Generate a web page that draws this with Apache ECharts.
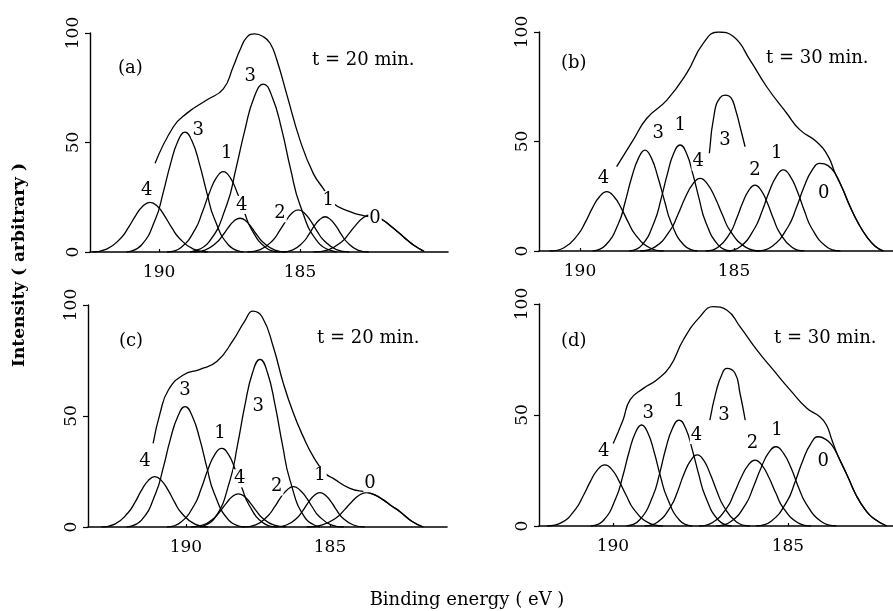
<!DOCTYPE html>
<html><head><meta charset="utf-8">
<script src="https://cdn.jsdelivr.net/npm/echarts@6/dist/echarts.min.js"></script>
<style>html,body{margin:0;padding:0;background:#fff}#c{width:893px;height:611px}</style>
</head><body><div id="c"></div>
<script>
// ---------------- DATA ----------------
const xTickValues = [190, 185];
const yTickValues = [0, 50, 100];
const panelTags = ['(a)', '(b)', '(c)', '(d)'];
const panelTimes = ['t = 20 min.', 't = 30 min.', 't = 20 min.', 't = 30 min.'];
const xTitle = 'Binding energy ( eV )';
const yTitle = 'Intensity ( arbitrary )';

// Panel (a)
const a_env = [[190.14,40.5],[189.49,57.2],[189.02,63.3],[188.31,69.4],[187.72,74.5],[187.37,84.6],[187.13,92.2],[186.89,98.0],[186.6,99.6],[186.30,98.3],[186.06,95.3],[185.83,88],[185.47,72],[185.0,51.1],[184.53,35.9],[184.15,28.5],[183.85,22.5],[183.23,18.4],[182.76,16.6],[182.4,16.0],[182.05,14.5],[181.75,11.5],[181.45,8.3],[181.2,5.5],[180.95,3],[180.6,0.3]];
const a_p4L = [[192.37,0],[191.86,1.3],[191.35,6.4],[191.09,11.1],[190.83,16.6],[190.58,20.9],[190.32,22.7],[190.06,20.9],[189.81,16.6],[189.55,11.1],[189.29,6.4],[188.78,1.3],[188.27,0]];
const a_p3L = [[191.15,0],[190.63,3.1],[190.12,15.3],[189.86,26.8],[189.60,39.9],[189.34,50.3],[189.08,54.7],[188.82,50.3],[188.56,39.9],[188.30,26.8],[188.04,15.3],[187.53,3.1],[187.01,0]];
const a_p1L = [[189.72,0],[189.22,2.1],[188.72,10.3],[188.47,18.0],[188.22,26.8],[187.97,33.8],[187.72,36.7],[187.47,33.8],[187.22,26.8],[186.97,18.0],[186.72,10.3],[186.22,2.1],[185.72,0]];
const a_p3B = [[188.90,0],[188.25,4.3],[187.60,21.5],[187.28,37.6],[186.95,56.0],[186.63,70.6],[186.30,76.7],[185.98,70.6],[185.65,56.0],[185.33,37.6],[185.00,21.5],[184.35,4.3],[183.70,0]];
const a_p4M = [[188.78,0],[188.37,0.9],[187.96,4.3],[187.75,7.5],[187.54,11.2],[187.34,14.2],[187.13,15.4],[186.92,14.2],[186.72,11.2],[186.51,7.5],[186.30,4.3],[185.89,0.9],[185.48,0]];
const a_p2 = [[186.86,0],[186.41,1.1],[185.96,5.4],[185.74,9.4],[185.51,14.0],[185.29,17.7],[185.06,19.2],[184.84,17.7],[184.61,14.0],[184.39,9.4],[184.16,5.4],[183.71,1.1],[183.26,0]];
const a_p1R = [[185.66,0],[185.27,0.9],[184.89,4.5],[184.69,7.9],[184.50,11.8],[184.30,14.8],[184.11,16.1],[183.92,14.8],[183.72,11.8],[183.53,7.9],[183.33,4.5],[182.95,0.9],[182.56,0]];
const a_p0 = [[184.52,0],[184.02,0.9],[183.52,4.7],[183.27,8.3],[183.02,12.3],[182.77,15.5],[182.52,16.9],[182.25,16.0],[182.05,14.5],[181.75,11.5],[181.45,8.3],[181.2,5.5],[180.95,3],[180.6,0.3]];
const a_labels = [[190.44,28.3,'4'],[188.61,55.7,'3'],[187.6,45.1,'1'],[186.77,80.1,'3'],[187.07,21.5,'4'],[185.71,17.7,'2'],[184.0,23.7,'1'],[182.34,15.4,'0']];

// Panel (b)
const b_env = [[188.81,38.5],[188.27,50.7],[187.83,60.6],[187.18,68.9],[186.54,81.1],[186.0,94.8],[185.51,100],[185.02,97.9],[184.48,87.2],[183.94,75.0],[183.29,62.9],[182.86,55.3],[182.32,49.9],[181.94,43.1],[181.72,35.5],[181.48,28.5],[181.23,20.2],[180.96,12.5],[180.69,6.5],[180.42,2.2],[180.15,0]];
const b_p4L = [[190.98,0],[190.52,1.5],[190.06,7.6],[189.82,13.3],[189.59,19.8],[189.36,24.9],[189.13,27.1],[188.90,24.9],[188.67,19.8],[188.44,13.3],[188.21,7.6],[187.74,1.5],[187.28,0]];
const b_p3L = [[189.59,0],[189.17,2.6],[188.74,12.9],[188.53,22.6],[188.32,33.7],[188.10,42.4],[187.89,46.1],[187.68,42.4],[187.47,33.7],[187.25,22.6],[187.04,12.9],[186.62,2.6],[186.19,0]];
const b_p1L = [[188.40,0],[187.99,2.7],[187.58,13.6],[187.37,23.7],[187.16,35.3],[186.96,44.5],[186.75,48.4],[186.54,44.5],[186.34,35.3],[186.13,23.7],[185.93,13.6],[185.51,2.7],[185.10,0]];
const b_p4M = [[188.05,0],[187.56,1.9],[187.08,9.3],[186.83,16.3],[186.59,24.2],[186.34,30.5],[186.10,33.2],[185.86,30.5],[185.61,24.2],[185.37,16.3],[185.13,9.3],[184.64,1.9],[184.15,0]];
const b_p3B = [[185.8,44.6],[185.62,64.4],[185.45,70.0],[185.29,71.2],[185.1,70.0],[184.95,64.5],[184.8,56.5],[184.64,47.6]];
const b_p2 = [[185.92,0],[185.52,1.7],[185.12,8.4],[184.92,14.7],[184.72,22.0],[184.52,27.7],[184.32,30.1],[184.12,27.7],[183.92,22.0],[183.72,14.7],[183.52,8.4],[183.12,1.7],[182.72,0]];
const b_p1R = [[185.25,0],[184.79,2.1],[184.33,10.4],[184.09,18.1],[183.86,27.0],[183.63,34.0],[183.40,37.0],[183.17,34.0],[182.94,27.0],[182.71,18.1],[182.48,10.4],[182.01,2.1],[181.55,0]];
const b_p0 = [[184.27,0],[183.76,2.2],[183.24,11.2],[182.98,19.6],[182.73,29.2],[182.47,36.8],[182.21,40.0],[181.95,39.0],[181.72,35.5],[181.48,28.5],[181.23,20.2],[180.96,12.5],[180.69,6.5],[180.42,2.2],[180.15,0]];
const b_labels = [[189.24,33.2,'4'],[187.46,53.7,'3'],[186.75,57.5,'1'],[186.16,40.8,'4'],[185.29,50.7,'3'],[184.32,37.0,'2'],[183.61,44.6,'1'],[182.09,26.3,'0']];

// Panel (c)
const c_env = [[191.14,37.7],[190.90,51.2],[190.61,61.7],[190.09,68.5],[189.51,71.0],[188.93,74.5],[188.36,84.2],[187.95,93],[187.68,97.2],[187.35,94.5],[186.97,81.2],[186.62,64.7],[186.27,51.2],[185.93,40.7],[185.58,31.7],[185.17,24.2],[184.89,21.9],[184.31,17.4],[183.73,15.6],[183.45,14.5],[183.15,12.2],[182.86,9.5],[182.57,6.9],[182.15,2.5],[181.76,0]];
const c_p4L = [[192.93,0],[192.47,1.3],[192.01,6.4],[191.77,11.1],[191.54,16.6],[191.31,20.9],[191.08,22.7],[190.85,20.9],[190.62,16.6],[190.39,11.1],[190.16,6.4],[189.69,1.3],[189.23,0]];
const c_p3L = [[192.06,0],[191.55,3.0],[191.05,15.2],[190.79,26.6],[190.54,39.6],[190.28,49.9],[190.03,54.2],[189.78,49.9],[189.52,39.6],[189.27,26.6],[189.02,15.2],[188.51,3.0],[188.00,0]];
const c_p1L = [[190.66,0],[190.19,2.0],[189.71,9.9],[189.47,17.3],[189.24,25.8],[189.00,32.6],[188.76,35.4],[188.52,32.6],[188.29,25.8],[188.05,17.3],[187.81,9.9],[187.34,2.0],[186.86,0]];
const c_p4M = [[189.83,0],[189.42,0.8],[189.01,4.2],[188.80,7.3],[188.59,10.9],[188.39,13.7],[188.18,14.9],[187.97,13.7],[187.77,10.9],[187.56,7.3],[187.36,4.2],[186.94,0.8],[186.53,0]];
const c_p3B = [[189.51,0],[188.99,4.2],[188.47,21.1],[188.21,37.0],[187.95,55.1],[187.69,69.5],[187.43,75.5],[187.17,69.5],[186.91,55.1],[186.65,37.0],[186.39,21.1],[185.87,4.2],[185.35,0]];
const c_p2 = [[188.02,0],[187.58,1.0],[187.15,5.1],[186.93,8.9],[186.71,13.3],[186.49,16.7],[186.27,18.2],[186.05,16.7],[185.83,13.3],[185.61,8.9],[185.40,5.1],[184.96,1.0],[184.52,0]];
const c_p1R = [[186.90,0],[186.51,0.9],[186.13,4.3],[185.93,7.6],[185.74,11.3],[185.54,14.3],[185.35,15.5],[185.16,14.3],[184.96,11.3],[184.77,7.6],[184.58,4.3],[184.19,0.9],[183.80,0]];
const c_p0 = [[185.81,0],[185.29,0.9],[184.77,4.3],[184.51,7.6],[184.25,11.3],[183.99,14.3],[183.73,15.5],[183.45,14.5],[183.15,12.2],[182.86,9.5],[182.57,6.9],[182.15,2.5],[181.76,0]];
const c_labels = [[191.42,29.4,'4'],[190.03,61.7,'3'],[188.82,42.2,'1'],[187.49,54.2,'3'],[188.13,21.9,'4'],[186.85,18.2,'2'],[185.35,23.4,'1'],[183.61,19.7,'0']];

// Panel (d)
const d_env = [[189.99,37.2],[189.71,47.7],[189.51,56.8],[189.13,62.0],[188.75,65.8],[188.37,71.8],[187.99,83.8],[187.51,94.3],[187.13,98.8],[186.75,97.3],[186.37,89.8],[185.89,79.3],[185.42,70.3],[184.94,61.3],[184.46,53.0],[184.09,49.2],[183.9,45.5],[183.75,39],[183.56,31.2],[183.30,22.5],[183.03,13.2],[182.8,7.5],[182.56,3.5],[182.18,0]];
const d_p4L = [[191.88,0],[191.47,1.5],[191.06,7.7],[190.85,13.5],[190.64,20.1],[190.44,25.3],[190.23,27.5],[190.02,25.3],[189.82,20.1],[189.61,13.5],[189.41,7.7],[188.99,1.5],[188.58,0]];
const d_p3L = [[190.63,0],[190.27,2.5],[189.91,12.7],[189.72,22.3],[189.54,33.2],[189.36,41.9],[189.18,45.5],[189.00,41.9],[188.82,33.2],[188.64,22.3],[188.45,12.7],[188.09,2.5],[187.73,0]];
const d_p1L = [[189.61,0],[189.24,2.7],[188.86,13.4],[188.67,23.4],[188.49,34.8],[188.30,43.9],[188.11,47.7],[187.92,43.9],[187.74,34.8],[187.55,23.4],[187.36,13.4],[186.99,2.7],[186.61,0]];
const d_p4M = [[189.09,0],[188.72,1.8],[188.34,9.0],[188.15,15.7],[187.97,23.4],[187.78,29.4],[187.59,32.0],[187.40,29.4],[187.22,23.4],[187.03,15.7],[186.84,9.0],[186.47,1.8],[186.09,0]];
const d_p3B = [[187.23,47.7],[187.04,61.3],[186.88,68.5],[186.75,71.0],[186.51,68.8],[186.37,59.8],[186.22,47.7]];
const d_p2 = [[187.54,0],[187.14,1.7],[186.74,8.3],[186.54,14.6],[186.34,21.7],[186.14,27.3],[185.94,29.7],[185.74,27.3],[185.54,21.7],[185.34,14.6],[185.14,8.3],[184.74,1.7],[184.34,0]];
const d_p1R = [[187.06,0],[186.63,2.0],[186.20,10.0],[185.99,17.5],[185.77,26.1],[185.56,32.8],[185.34,35.7],[185.13,32.8],[184.91,26.1],[184.70,17.5],[184.48,10.0],[184.05,2.0],[183.62,0]];
const d_p0 = [[185.91,0],[185.47,2.3],[185.02,11.3],[184.80,19.7],[184.58,29.3],[184.35,37.0],[184.13,40.2],[183.92,39.0],[183.75,36.5],[183.56,31.2],[183.30,22.5],[183.03,13.2],[182.8,7.5],[182.56,3.5],[182.18,0]];
const d_labels = [[190.26,33.5,'4'],[188.99,50.8,'3'],[188.11,56.0,'1'],[187.61,41.0,'4'],[186.83,50.0,'3'],[186.01,37.2,'2'],[185.31,43.2,'1'],[183.99,29.0,'0']];

// ---------------- LAYOUT ----------------
const FONT = 'DejaVu Serif';
const panels = [
  {grid:{left:90, top:33, width:358, height:219}, xmin:179.75, xmax:192.45,
   curves:[a_env,a_p4L,a_p3L,a_p1L,a_p3B,a_p4M,a_p2,a_p1R,a_p0], labels:a_labels,
   tag:[132,70], time:[368,62]},
  {grid:{left:539, top:32, width:354, height:219}, xmin:179.84, xmax:191.33,
   curves:[b_env,b_p4L,b_p3L,b_p1L,b_p4M,b_p3B,b_p2,b_p1R,b_p0], labels:b_labels,
   tag:[575,65], time:[822,60]},
  {grid:{left:88, top:305, width:359, height:222}, xmin:180.94, xmax:193.40,
   curves:[c_env,c_p4L,c_p3L,c_p1L,c_p4M,c_p3B,c_p2,c_p1R,c_p0], labels:c_labels,
   tag:[133,343], time:[373,340]},
  {grid:{left:539, top:304, width:354, height:222}, xmin:182.0, xmax:192.11,
   curves:[d_env,d_p4L,d_p3L,d_p1L,d_p4M,d_p3B,d_p2,d_p1R,d_p0], labels:d_labels,
   tag:[575,343], time:[830,340]}
];

const grid = [], xAxis = [], yAxis = [], series = [], graphic = [];
panels.forEach((p, i) => {
  grid.push(Object.assign({containLabel:false}, p.grid));
  xAxis.push({
    type:'value', gridIndex:i, inverse:true, min:p.xmin, max:p.xmax,
    axisLine:{show:true, onZero:false, lineStyle:{color:'#000', width:1.6}},
    axisTick:{show:true, inside:true, length:3, customValues:xTickValues, lineStyle:{color:'#000', width:1.2}},
    axisLabel:{show:true, customValues:xTickValues, margin:12, color:'#000', fontFamily:FONT, fontSize:17},
    splitLine:{show:false}
  });
  yAxis.push({
    type:'value', gridIndex:i, min:0, max:100, interval:50,
    axisLine:{show:true, lineStyle:{color:'#000', width:1.4}},
    axisTick:{show:true, length:5, lineStyle:{color:'#000', width:1.2}},
    axisLabel:{show:true, rotate:90, margin:8, color:'#000', fontFamily:FONT, fontSize:17},
    splitLine:{show:false}
  });
  p.curves.forEach(c => {
    series.push({
      type:'line', xAxisIndex:i, yAxisIndex:i, data:c, smooth:0.5,
      showSymbol:false, symbol:'none', silent:true,
      lineStyle:{color:'#000', width:1.3}, z:2
    });
  });
  series.push({
    type:'scatter', xAxisIndex:i, yAxisIndex:i, data:p.labels, symbolSize:1, z:10, silent:true,
    itemStyle:{opacity:0},
    label:{show:true, position:'inside', formatter:(d)=>d.value[2], color:'#000', opacity:1,
      fontFamily:FONT, fontSize:18, backgroundColor:'#fff', padding:[0,1]}
  });
  graphic.push({type:'text', left:p.tag[0]-14, top:p.tag[1]-11,
    style:{text:panelTags[i], font:'18px "DejaVu Serif"', fill:'#000'}});
  graphic.push({type:'text', left:p.time[0]-56, top:p.time[1]-11,
    style:{text:panelTimes[i], font:'18px "DejaVu Serif"', fill:'#000'}});
});
graphic.push({type:'text', x:20, y:265, rotation:Math.PI/2,
  style:{text:yTitle, font:'bold 17px "DejaVu Serif"', fill:'#000', align:'center', verticalAlign:'middle'}});
graphic.push({type:'text', x:467, y:600,
  style:{text:xTitle, font:'18px "DejaVu Serif"', fill:'#000', align:'center', verticalAlign:'middle'}});

const chart = echarts.init(document.getElementById('c'), null, {renderer:'canvas'});
chart.setOption({backgroundColor:'#fff', animation:false, grid, xAxis, yAxis, series, graphic});
</script></body></html>
